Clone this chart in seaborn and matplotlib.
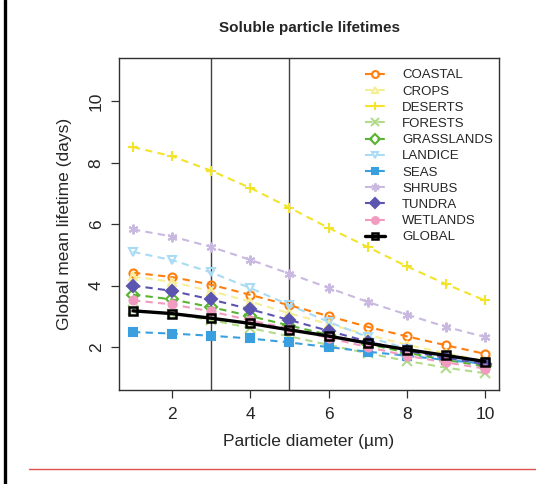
import numpy as np
import pandas as pd
import matplotlib
matplotlib.use("Agg")
import matplotlib.pyplot as plt
from matplotlib.lines import Line2D
import seaborn as sns

# ---- data ----
diameters = [1, 2, 3, 4, 5, 6, 7, 8, 9, 10]
series_names = ["COASTAL", "CROPS", "DESERTS", "FORESTS", "GRASSLANDS",
                "LANDICE", "SEAS", "SHRUBS", "TUNDRA", "WETLANDS", "GLOBAL"]
coastal = [4.42, 4.28, 4.03, 3.70, 3.36, 3.01, 2.66, 2.35, 2.06, 1.78]
crops = [4.30, 4.12, 3.82, 3.48, 3.10, 2.75, 2.40, 2.08, 1.80, 1.55]
deserts = [8.51, 8.21, 7.74, 7.18, 6.54, 5.88, 5.26, 4.63, 4.05, 3.52]
forests = [3.20, 3.08, 2.88, 2.62, 2.35, 2.07, 1.80, 1.55, 1.33, 1.15]
grasslands = [3.71, 3.55, 3.30, 3.01, 2.70, 2.40, 2.10, 1.82, 1.58, 1.38]
landice = [5.10, 4.83, 4.43, 3.92, 3.37, 2.82, 2.33, 1.95, 1.65, 1.45]
seas = [2.49, 2.44, 2.37, 2.28, 2.15, 2.00, 1.85, 1.72, 1.58, 1.46]
shrubs = [5.83, 5.60, 5.26, 4.84, 4.39, 3.93, 3.47, 3.06, 2.66, 2.33]
tundra = [4.00, 3.83, 3.55, 3.23, 2.88, 2.53, 2.18, 1.88, 1.65, 1.45]
wetlands = [3.52, 3.39, 3.16, 2.87, 2.60, 2.30, 2.00, 1.72, 1.50, 1.30]
global_mean = [3.18, 3.09, 2.94, 2.77, 2.56, 2.36, 2.13, 1.92, 1.73, 1.53]
x_ticks = [2, 4, 6, 8, 10]
y_ticks = [2, 4, 6, 8, 10]
vlines_at = [3, 5]

values = [coastal, crops, deserts, forests, grasslands, landice, seas,
          shrubs, tundra, wetlands, global_mean]
df = pd.DataFrame({
    "diameter": np.tile(diameters, len(series_names)),
    "lifetime": np.concatenate(values),
    "region": np.repeat(series_names, len(diameters)),
})

colors = {
    "COASTAL": "#FF7F0E", "CROPS": "#F6EE95", "DESERTS": "#F2E42A",
    "FORESTS": "#B2DB8A", "GRASSLANDS": "#58B432", "LANDICE": "#A9DCF4",
    "SEAS": "#3A9FDF", "SHRUBS": "#C9B9E0", "TUNDRA": "#5B55B0",
    "WETLANDS": "#F29BC0", "GLOBAL": "#000000",
}
markers = {
    "COASTAL": ("o", False), "CROPS": ("^", False), "DESERTS": ("+", False),
    "FORESTS": ("x", False), "GRASSLANDS": ("D", False), "LANDICE": ("v", False),
    "SEAS": ("s", True), "SHRUBS": ((6, 2, 0), False), "TUNDRA": ("D", True),
    "WETLANDS": ("o", True), "GLOBAL": ("s", False),
}

sns.set_theme(style="white")
plt.rcParams["font.family"] = ["Liberation Sans", "DejaVu Sans"]

fig = plt.figure(figsize=(5.36, 4.84), dpi=100)
ax = fig.add_axes([0.222, 0.194, 0.709, 0.6855])

for xv in vlines_at:
    ax.axvline(xv, color="#404040", lw=1.0, zorder=1)

handles = []
for name in series_names:
    sub = df[df["region"] == name]
    m, filled = markers[name]
    c = colors[name]
    is_global = name == "GLOBAL"
    lw = 2.4 if is_global else 1.5
    ms = 7 if m in ("+", "x", (6, 2, 0)) else 5.8
    kw = dict(marker=m, markersize=ms, markeredgewidth=1.5,
              markerfacecolor=(c if filled else "none"), markeredgecolor=c)
    if is_global:
        kw["markerfacecolor"] = "none"
        kw["markeredgewidth"] = 1.8
    sns.lineplot(data=sub, x="diameter", y="lifetime", color=c, lw=lw,
                 ax=ax, legend=False, estimator=None, zorder=3 if is_global else 2,
                 **kw)
    line = ax.get_lines()[-1]
    if not is_global:
        line.set_dashes((3.5, 2.5))
    hkw = dict(kw)
    hkw["markersize"] = ms * 0.85
    handles.append(Line2D([0], [0], color=c, lw=lw,
                          linestyle="-" if is_global else (0, (3.5, 2.5)), **hkw))

ax.set_xlim(0.64, 10.36)
ax.set_ylim(0.6, 11.4)
ax.set_xticks(x_ticks)
ax.set_yticks(y_ticks)
ax.set_xticklabels([str(t) for t in x_ticks], fontsize=12.5)
ax.set_yticklabels([str(t) for t in y_ticks], fontsize=12.5, rotation=90, va="center")
ax.tick_params(axis="both", direction="out", length=6, width=0.9,
               color="#303030", bottom=True, left=True)
ax.tick_params(axis="x", pad=6.5)
ax.tick_params(axis="y", pad=5)
for s in ax.spines.values():
    s.set_color("#303030")
    s.set_linewidth(1.0)
ax.set_xlabel("Particle diameter (\u00b5m)", fontsize=12.5, labelpad=8)
ax.set_ylabel("Global mean lifetime (days)", fontsize=12.5, labelpad=12)
ax.set_title("Soluble particle lifetimes", fontsize=11, fontweight="bold", pad=19)

leg = fig.legend(handles, series_names, loc="upper left", frameon=False,
                 fontsize=9.5, handlelength=1.5, handletextpad=1.3,
                 labelspacing=0.3, borderaxespad=0.0, borderpad=0.0,
                 bbox_to_anchor=(0.681, 0.857))

# page decorations
fig.add_artist(Line2D([0.0095, 0.0095], [0.0, 1.0], color="black", lw=2.4,
                      transform=fig.transFigure))
fig.add_artist(Line2D([0.054, 1.0], [1 - 469 / 484, 1 - 469 / 484],
                      color="#E05050", lw=1.0, transform=fig.transFigure))

fig.savefig("out.png", dpi=100)
